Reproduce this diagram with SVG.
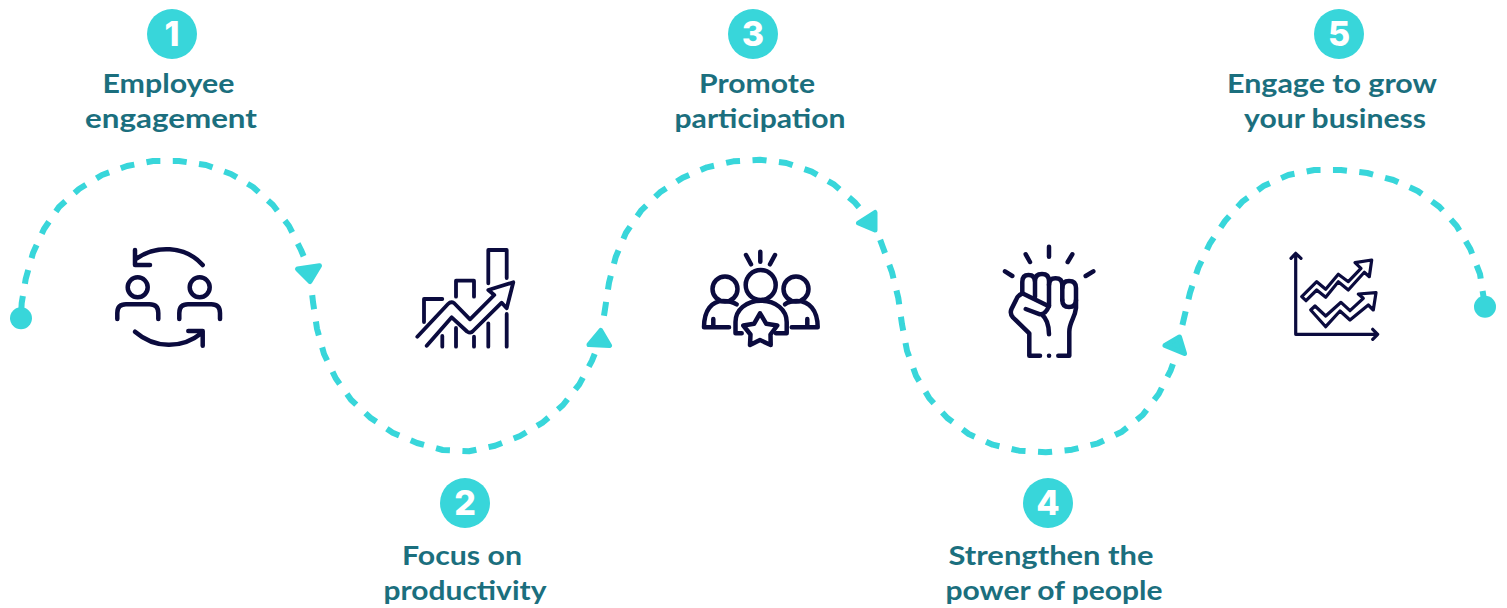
<svg xmlns="http://www.w3.org/2000/svg" width="1507" height="608" viewBox="0 0 1507 608">
<style>
.p{fill:none;stroke:#38d6da;stroke-width:6;stroke-dasharray:.53 .47;stroke-dashoffset:.765;stroke-linejoin:round}
.a{fill:#38d6da;stroke:#38d6da;stroke-width:5;stroke-linejoin:round}
.c{fill:#38d6da}
.i{fill:none;stroke:#0b0b3e;stroke-width:4.500;stroke-linecap:round;stroke-linejoin:round}
.i2{stroke-width:3.800}
.i3{stroke-width:3.200}
.n{font:800 34px Inter,"Liberation Sans",sans-serif;fill:#fff;text-anchor:middle}
.t{font:700 27px Lato,"Liberation Sans",sans-serif;fill:#1b6f7e;text-anchor:middle}
</style>
<rect width="1507" height="608" fill="#fff"/>
<g id="connectors">
<path class="p" pathLength="16" d="M21 316L21.700 303L25.700 279L33 253L44 229L59 207L79 189L102 175L127 166L153 161L179 161L206 165L231 174L253 187L273 205L289 226L301 250L306 262"/>
<path class="p" pathLength="16" d="M311.500 289L313 302L317 328.700L324 354L335.700 378.300L351 399.700L370.700 418L392.700 432.700L417 443L442.700 450L469 451.300L495 445.700L520 436L543 422.300L563 405L579.300 384.300L592 360.700L597 348"/>
<path class="p" pathLength="14" d="M603 322L605 309.300L609 282.700L615.700 257L626 232.700L641 210.700L660 192.300L682.700 177.700L707 167.300L733.300 161.300L760 159.700L786.300 163L811.700 171.700L834.300 184.700L854.700 202.300L863 212"/>
<path class="p" pathLength="18" d="M878 234L882.700 246.700L892 272.300L898.300 298L902 324.300L907 350.700L916 375.700L929.300 398.300L947.300 418L968.700 434L992.700 444.700L1019 450.700L1045.700 452.300L1072 449.700L1098 443.300L1122 431.700L1142.700 415L1158.700 394L1170.700 370.300L1175 358"/>
<path class="p" pathLength="18" d="M1181 331L1184 318.300L1190 292.700L1198.300 267.700L1210 243.300L1225 221L1242.700 201.300L1264 185.700L1288.300 175L1314.300 170L1341 170L1367.300 173L1393.300 180L1417.700 191L1439.300 206.700L1456.700 226L1470.300 249L1480 274L1483.700 298L1485 311"/>
<circle class="c" cx="21" cy="318.300" r="11"/>
<circle class="c" cx="1485" cy="306.700" r="11"/>
<path class="a" d="M297.500 269L319.500 265.800L310 281.500Z"/>
<path class="a" d="M589 344.500L600.700 330.500L609.500 345.500Z"/>
<path class="a" d="M858.500 223L875 212.500L875 230Z"/>
<path class="a" d="M1165 345.500L1179.500 337L1184.500 353.500Z"/>
</g>
<g id="node-1">
<circle class="c" cx="172" cy="34" r="25"/><text class="n" x="172" y="46">1</text>
<text class="t" x="168.500" y="93" textLength="132" lengthAdjust="spacingAndGlyphs">Employee</text>
<text class="t" x="171" y="128" textLength="172" lengthAdjust="spacingAndGlyphs">engagement</text>
<g class="i">
<path d="M202.700 265C185 245 155 245 136 259M135 250V265H150"/>
<circle cx="137.700" cy="287.300" r="10"/>
<circle cx="199.700" cy="287.300" r="10"/>
<path d="M117.300 319V313Q117.300 304.300 126 304.300H149.500Q158.300 304.300 158.300 313V319"/>
<path d="M179.300 319V313Q179.300 304.300 188 304.300H211.300Q220 304.300 220 313V319"/>
<path d="M135 331.700C155 349 182 349 201.700 333M188.300 331H202.700V345.700"/>
</g>
</g>
<g id="node-2">
<circle class="c" cx="465" cy="503" r="25"/><text class="n" x="465" y="515">2</text>
<text class="t" x="462" y="565" textLength="120" lengthAdjust="spacingAndGlyphs">Focus on</text>
<text class="t" x="465" y="600" textLength="163" lengthAdjust="spacingAndGlyphs">productivity</text>
<g class="i i2">
<path d="M424 322V299H442.300M442.300 336V346.700"/>
<path d="M456 296.700V280.700H474V296.700M456 328V346.700M474 336.700V346.700"/>
<path d="M488.300 283.300V250H506.700V278M488.300 323.300V346.700M506.700 314V346.700"/>
<path d="M417.300 336.700L448 304Q451 301 454 303L470 319.300L494.300 295L488.300 290L513.300 282.300L506.700 308.300L501.700 302.700L473 331Q470.700 334 467 331.500L451.700 317.300L426.700 345.700"/>
</g>
</g>
<g id="node-3">
<circle class="c" cx="753" cy="34" r="25"/><text class="n" x="753" y="46">3</text>
<text class="t" x="757" y="93" textLength="116" lengthAdjust="spacingAndGlyphs">Promote</text>
<text class="t" x="760" y="128" textLength="171" lengthAdjust="spacingAndGlyphs">participation</text>
<g class="i">
<path d="M760.300 251.700V261.700M746 255L751 264.300M775 255L770 264.300"/>
<circle cx="760.700" cy="285" r="15"/>
<circle cx="725" cy="289" r="12.500"/>
<circle cx="796" cy="289" r="12.500"/>
<path d="M736.700 304.300C733 302 728 301 723 301C712 301 704 310 704 327.300H729M713.300 319V327.300"/>
<path d="M785 304.300C788 302 793 301 797 301C809 301 817.700 310 817.700 327.300H791.700M807.300 319V327.300"/>
<path d="M741.700 333.300H735.500V322C735.500 310 746 300.700 761 300.700C776 300.700 786.700 310 786.700 322V333.300H776"/>
<path d="M760 313.300L766.300 323.800L777.300 325.500L770.500 334.500L770.700 345L760 340L750 345L750.500 334.500L743.300 325.500L754 323.800Z"/>
</g>
</g>
<g id="node-4">
<circle class="c" cx="1048" cy="503" r="25"/><text class="n" x="1048" y="515">4</text>
<text class="t" x="1051" y="565" textLength="205" lengthAdjust="spacingAndGlyphs">Strengthen the</text>
<text class="t" x="1054" y="600" textLength="217" lengthAdjust="spacingAndGlyphs">power of people</text>
<g class="i">
<path d="M1049 246.700V256.700M1025.700 254.300L1030 262M1072.300 254.300L1067.700 262M1005 271.300L1012.300 276M1093.300 271.300L1085.700 276"/>
<path d="M1022.300 293.300V282Q1022.300 275 1028.500 275Q1035 275 1035 282V297"/>
<path d="M1035 281Q1035 274 1042 274Q1049 274 1049 281V306"/>
<path d="M1049 285Q1049 278.300 1055.500 278.300Q1062.300 278.300 1062.300 285V300"/>
<path d="M1062.300 288Q1062.300 281 1069 281Q1076 281 1076 288V300Q1076 307 1069 307Q1062.300 307 1062.300 300"/>
<path d="M1076 300V308C1075 318 1069.300 322 1069.300 331.700V355.700H1058.300M1049 355.700H1049.100M1040 355.700H1029.300V333.300L1013 317.500Q1009.500 313.500 1011.500 309L1016 300Q1018 295 1022.300 293.300L1048.300 306"/>
<path d="M1025.700 309L1040 314.300C1044 314.500 1047 311 1049 306M1041.700 314.300C1046 318 1049 325 1049 334.300"/>
</g>
</g>
<g id="node-5">
<circle class="c" cx="1339" cy="34" r="25"/><text class="n" x="1339" y="46">5</text>
<text class="t" x="1332" y="93" textLength="210" lengthAdjust="spacingAndGlyphs">Engage to grow</text>
<text class="t" x="1335" y="128" textLength="182" lengthAdjust="spacingAndGlyphs">your business</text>
<g class="i i3">
<path d="M1291 258.300L1295.700 253.300L1301 258.300M1295.700 253.300V334.300H1377.700M1372.700 329.300L1377.700 334.300L1372.700 339.300"/>
<path d="M1301.700 296.700L1316.700 281.700L1325.700 289.300L1338.300 274.300L1348.300 281.700L1361 268.300L1355 262.700L1371.700 260L1369.300 276.700L1364.300 272.300L1348.300 290L1338.300 281.700L1325.700 297.300L1316.700 290L1306 300.700Z"/>
<path d="M1310.700 310L1315 306L1325.700 316L1341 302.300L1350 310.700L1363.300 298.300L1358.300 294L1376 292.700L1373.300 310L1368.300 305L1350 320L1340 311L1325.700 326.700Z"/>
</g>
</g>
</svg>
